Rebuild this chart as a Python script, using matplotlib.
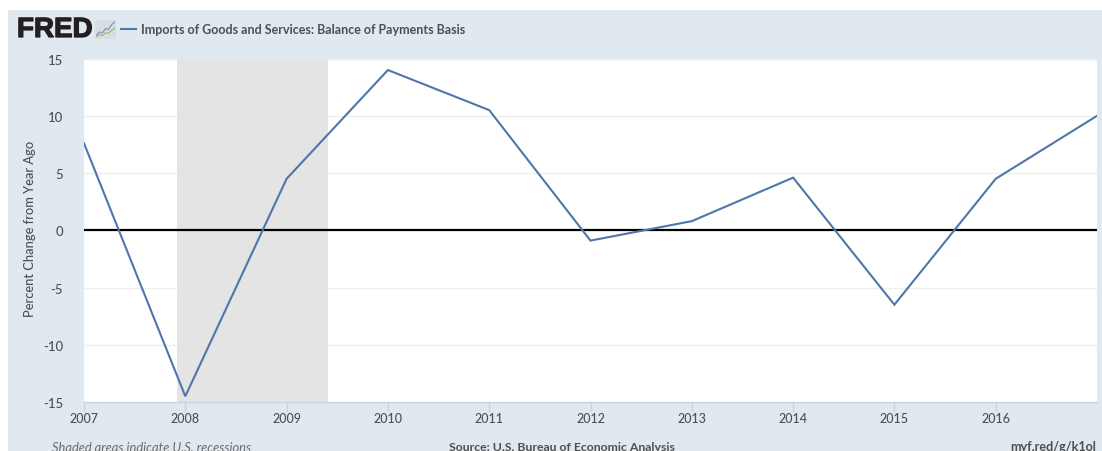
import matplotlib
matplotlib.use("Agg")
import matplotlib.pyplot as plt
import matplotlib.patheffects as pe
from matplotlib.patches import Rectangle
from matplotlib.lines import Line2D

years = [2007, 2008, 2009, 2010, 2011, 2012, 2013, 2014, 2015, 2016, 2017]
pct_change = [7.6, -14.5, 4.5, 14.0, 10.5, -0.9, 0.8, 4.6, -6.5, 4.5, 10.0]
recession = (2007.917, 2009.41)
y_ticks = [-15, -10, -5, 0, 5, 10, 15]
x_ticks = [2007, 2008, 2009, 2010, 2011, 2012, 2013, 2014, 2015, 2016]
series_name = "Imports of Goods and Services: Balance of Payments Basis"
y_label = "Percent Change from Year Ago"
note = "Shaded areas indicate U.S. recessions"
source = "Source: U.S. Bureau of Economic Analysis"
link = "myf.red/g/k1ol"
icon_blue = [0.15, 0.35, 0.3, 0.55, 0.5, 0.8, 0.95]
icon_green = [0.08, 0.2, 0.15, 0.3, 0.28, 0.45, 0.6]

W, H = 1102, 452
LINE = "#4e76a8"
TEXT = "#4f4f4f"
PANEL = "#e1e9f0"

plt.rcParams["font.family"] = ["Lato", "DejaVu Sans"]
plt.rcParams["axes.unicode_minus"] = False
fig = plt.figure(figsize=(W / 100, H / 100), dpi=100, facecolor="white")


def fx(px):
    return px / W


def fy(py):
    return 1 - py / H


fig.patches.append(Rectangle((fx(8), 0), 1 - fx(8), fy(11), transform=fig.transFigure,
                             facecolor=PANEL, edgecolor="none", zorder=-5))

ax = fig.add_axes([fx(84), fy(403), (1097 - 84) / W, 343.4 / H], facecolor="white")
ax.set_xlim(2007, 2017)
ax.set_ylim(-15, 15)
ax.axvspan(*recession, color="#e4e4e4", lw=0, zorder=1)
for t in y_ticks:
    if t not in (-15, 0):
        ax.axhline(t, color="#eeeeee", lw=1, zorder=0.5)
ax.axhline(0, color="black", lw=1.6, zorder=2)
ax.plot(years, pct_change, color=LINE, lw=1.5, zorder=3, solid_joinstyle="miter")

for s in ("top", "right", "left"):
    ax.spines[s].set_visible(False)
ax.spines["bottom"].set_color("#c8d4e6")
ax.spines["bottom"].set_linewidth(1)
ax.set_yticks(y_ticks)
ax.set_xticks(x_ticks)
ax.tick_params(axis="y", length=0, pad=15, labelsize=9.5, labelcolor=TEXT)
ax.tick_params(axis="x", length=7, color="#c8d4e6", width=1, pad=0, labelsize=9, labelcolor=TEXT)
for lab in ax.get_xticklabels() + ax.get_yticklabels():
    lab.set_fontweight("medium")
ax.grid(False)

fig.text(fx(30), fy(229), y_label, rotation=90, ha="center", va="center",
         fontsize=9.25, color=TEXT, fontweight="medium")

logo = fig.text(fx(17), fy(31), "FRED", ha="left", va="center", fontsize=20, fontweight="bold",
                color="#231f20", family=["Liberation Sans", "DejaVu Sans"])
logo.set_path_effects([pe.withStroke(linewidth=0.9, foreground="#231f20")])

fig.patches.append(Rectangle((fx(95), fy(40)), 21 / W, 19 / H, transform=fig.transFigure,
                             facecolor="#d9dde0", edgecolor="none", zorder=-4))
icon = fig.add_axes([fx(96), fy(39), 19 / W, 17 / H])
icon.plot(range(len(icon_blue)), icon_blue, color="#7c9cc0", lw=0.9)
icon.plot(range(len(icon_green)), icon_green, color="#9dba7e", lw=0.9)
icon.set_xlim(0, 6)
icon.set_ylim(0, 1)
icon.axis("off")

fig.add_artist(Line2D([fx(121), fx(136)], [fy(30), fy(30)], color=LINE, lw=1.5))
fig.text(fx(141), fy(30), series_name, ha="left", va="center", fontsize=9.0,
         color=TEXT, fontweight="bold")

fig.text(fx(52), fy(448), note, ha="left", va="center", fontsize=9.3, color="#6a6a6a", style="italic")
fig.text(fx(449), fy(447.5), source, ha="left", va="center", fontsize=8.8, color=TEXT, fontweight="bold")
fig.text(fx(1096), fy(447.5), link, ha="right", va="center", fontsize=9.1, color=TEXT, fontweight="bold")

fig.savefig("out.png", dpi=100, facecolor="white")
